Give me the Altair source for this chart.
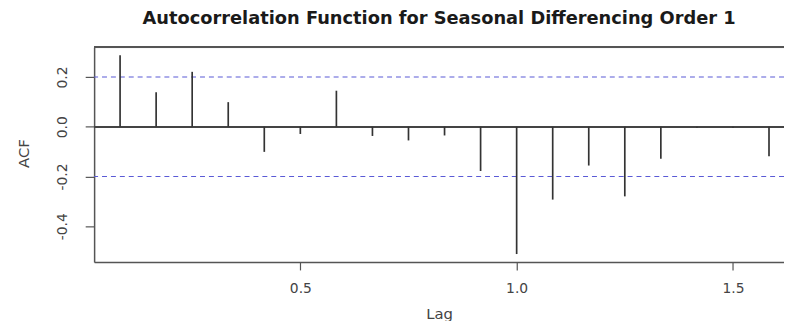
import altair as alt
import pandas as pd

# Data (lag in years = months / 12)
lag_months = [1, 2, 3, 4, 5, 6, 7, 8, 9, 10, 11, 12, 13, 14, 15, 16, 17, 18, 19]
acf_values = [0.288, 0.139, 0.221, 0.099, -0.101, -0.029, 0.145, -0.037, -0.055,
              -0.035, -0.178, -0.512, -0.293, -0.156, -0.280, -0.129, -0.004,
              -0.004, -0.119]
ci_bounds = [0.2, -0.2]
x_ticks = [0.5, 1.0, 1.5]
y_ticks = [-0.4, -0.2, 0.0, 0.2]

x_domain = [0.0233, 1.618]
y_domain = [-0.544, 0.320]

df = pd.DataFrame({"lag": [m / 12 for m in lag_months], "acf": acf_values})
ci_df = pd.DataFrame({"ci": ci_bounds})

FONT = "DejaVu Sans"
BOX = "#555555"
LABEL_EXPR = "datum.value < 0 ? '-' + format(-datum.value, '.1f') : format(datum.value, '.1f')"

xs = alt.Scale(domain=x_domain, nice=False, zero=False)
ys = alt.Scale(domain=y_domain, nice=False, zero=False)

x_axis = alt.Axis(
    values=x_ticks, labelExpr=LABEL_EXPR, title="Lag", grid=False,
    domainColor=BOX, domainWidth=1.5, tickColor=BOX, tickWidth=1.2, tickSize=8,
    labelFont=FONT, labelFontSize=14, labelColor="#444444", labelPadding=19,
    labelBaseline="middle",
    titleFont=FONT, titleFontSize=15, titleFontWeight="normal", titleColor="#444444",
    titleBaseline="middle", titleY=52,
)
y_axis = alt.Axis(
    values=y_ticks, labelExpr=LABEL_EXPR, title="ACF", grid=False,
    domainColor=BOX, domainWidth=1.5, tickColor=BOX, tickWidth=1.2, tickSize=9,
    labelFont=FONT, labelFontSize=14, labelColor="#444444", labelAngle=270,
    labelAlign="center", labelBaseline="middle", labelPadding=23,
    titleFont=FONT, titleFontSize=15, titleFontWeight="normal", titleColor="#444444",
    titleAngle=270, titleAlign="center", titleBaseline="middle",
    titleX=-71, titleY=107,
)

spikes = alt.Chart(df).mark_rule(color="#333333", strokeWidth=1.7).encode(
    x=alt.X("lag:Q", scale=xs, axis=x_axis),
    y=alt.Y("acf:Q", scale=ys, axis=y_axis),
    y2=alt.datum(0),
)

zero_line = alt.Chart(df).mark_rule(color="#444444", strokeWidth=1.5).encode(
    y=alt.datum(0, scale=ys),
)

top_line = alt.Chart(df).mark_rule(color=BOX, strokeWidth=1.5).encode(
    y=alt.datum(y_domain[1], scale=ys),
)

ci_lines = alt.Chart(ci_df).mark_rule(
    color="#5a5ad6", strokeWidth=1.1, strokeDash=[5, 4]
).encode(y=alt.Y("ci:Q", scale=ys))

chart = alt.layer(ci_lines, zero_line, top_line, spikes).properties(
    width=697,
    height=217,
    title=alt.Title(
        "Autocorrelation Function for Seasonal Differencing Order 1",
        font=FONT, fontSize=18, fontWeight="bold", color="#1a1a1a",
        anchor="middle", offset=19,
    ),
    autosize=alt.AutoSizeParams(type="none"),
    padding={"left": 87, "top": 38, "right": 0, "bottom": 58},
).configure_view(stroke=None).configure(background="white")

chart.save("out.html", embed_options={"renderer": "svg", "actions": False})
